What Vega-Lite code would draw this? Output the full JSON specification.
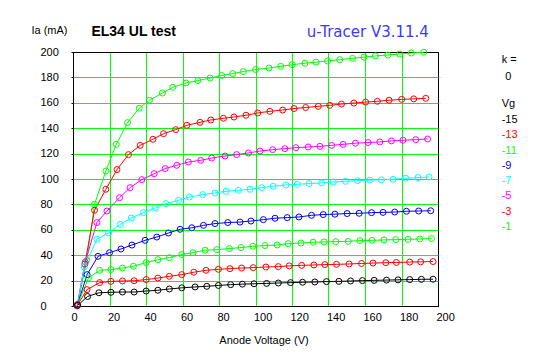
{
  "$schema": "https://vega.github.io/schema/vega-lite/v6.json",
  "width": 365,
  "height": 254,
  "autosize": "none",
  "padding": {"left": 73, "top": 52, "right": 109, "bottom": 51},
  "background": "white",
  "config": {
    "view": {"stroke": "black", "strokeWidth": 1},
    "font": "Liberation Sans",
    "axis": {"labelFont": "Liberation Sans", "labelFontSize": 11, "labelColor": "black", "titleFont": "Liberation Sans", "titleFontSize": 11, "titleFontWeight": "normal", "titleColor": "black"},
    "legend": {"padding": 0, "titleFont": "Liberation Sans", "titleFontSize": 11, "titleFontWeight": "normal", "titleColor": "black", "labelFont": "Liberation Sans", "labelFontSize": 11, "labelColor": "black", "symbolSize": 0, "symbolStrokeWidth": 0, "symbolOpacity": 0}
  },
  "data": {"values": [
    {"vg":"-1","v":2.5,"ia":1},{"vg":"-1","v":7.5,"ia":36},{"vg":"-1","v":11.8,"ia":80.1},{"vg":"-1","v":18.0,"ia":106.3},{"vg":"-1","v":23.7,"ia":127.3},{"vg":"-1","v":29.9,"ia":144.4},{"vg":"-1","v":36.3,"ia":155.7},{"vg":"-1","v":41.9,"ia":162},{"vg":"-1","v":49.0,"ia":167.7},{"vg":"-1","v":54.7,"ia":172.2},{"vg":"-1","v":62.0,"ia":175.6},{"vg":"-1","v":68.4,"ia":177.5},{"vg":"-1","v":75.1,"ia":179.5},{"vg":"-1","v":81.5,"ia":181.5},{"vg":"-1","v":87.5,"ia":183.0},{"vg":"-1","v":93.3,"ia":184.6},{"vg":"-1","v":100.1,"ia":186.2},{"vg":"-1","v":107.4,"ia":187.4},{"vg":"-1","v":113.8,"ia":188.7},{"vg":"-1","v":120.1,"ia":190.0},{"vg":"-1","v":127.1,"ia":191.2},{"vg":"-1","v":133.1,"ia":192.0},{"vg":"-1","v":139.5,"ia":192.9},{"vg":"-1","v":146.2,"ia":194.0},{"vg":"-1","v":153.2,"ia":195.0},{"vg":"-1","v":159.5,"ia":196.0},{"vg":"-1","v":165.7,"ia":196.9},{"vg":"-1","v":172.5,"ia":197.6},{"vg":"-1","v":179.0,"ia":198.4},{"vg":"-1","v":185.4,"ia":199.2},{"vg":"-1","v":192.2,"ia":199.8},
    {"vg":"-3","v":2.5,"ia":1},{"vg":"-3","v":6.5,"ia":33},{"vg":"-3","v":11.8,"ia":75.4},{"vg":"-3","v":18.0,"ia":91.9},{"vg":"-3","v":24.1,"ia":107.4},{"vg":"-3","v":30.4,"ia":119.2},{"vg":"-3","v":36.8,"ia":126.5},{"vg":"-3","v":43.8,"ia":131.3},{"vg":"-3","v":49.6,"ia":135.7},{"vg":"-3","v":56.3,"ia":138.9},{"vg":"-3","v":62.4,"ia":142.3},{"vg":"-3","v":69.6,"ia":144.6},{"vg":"-3","v":75.5,"ia":146.5},{"vg":"-3","v":82.4,"ia":147.8},{"vg":"-3","v":88.2,"ia":148.8},{"vg":"-3","v":94.8,"ia":150.2},{"vg":"-3","v":101.2,"ia":152.0},{"vg":"-3","v":107.9,"ia":153.3},{"vg":"-3","v":114.9,"ia":154.3},{"vg":"-3","v":121.1,"ia":155.5},{"vg":"-3","v":127.5,"ia":156.3},{"vg":"-3","v":134.4,"ia":157.2},{"vg":"-3","v":140.7,"ia":158.0},{"vg":"-3","v":147.1,"ia":159.0},{"vg":"-3","v":153.9,"ia":159.8},{"vg":"-3","v":160.3,"ia":160.6},{"vg":"-3","v":166.8,"ia":161.2},{"vg":"-3","v":173.2,"ia":162.0},{"vg":"-3","v":180.1,"ia":162.7},{"vg":"-3","v":186.7,"ia":163.1},{"vg":"-3","v":193.3,"ia":163.5},
    {"vg":"-5","v":2.2,"ia":0},{"vg":"-5","v":6.7,"ia":34.6},{"vg":"-5","v":13.1,"ia":65.7},{"vg":"-5","v":18.6,"ia":74.8},{"vg":"-5","v":25.5,"ia":85.3},{"vg":"-5","v":31.3,"ia":93.2},{"vg":"-5","v":37.7,"ia":99.5},{"vg":"-5","v":44.5,"ia":104.2},{"vg":"-5","v":50.5,"ia":108.2},{"vg":"-5","v":56.9,"ia":110.8},{"vg":"-5","v":63.2,"ia":113.4},{"vg":"-5","v":70.0,"ia":114.7},{"vg":"-5","v":76.0,"ia":116.5},{"vg":"-5","v":83.3,"ia":118.1},{"vg":"-5","v":89.7,"ia":119.2},{"vg":"-5","v":96.1,"ia":120.5},{"vg":"-5","v":102.5,"ia":122.0},{"vg":"-5","v":109.4,"ia":123.1},{"vg":"-5","v":116.1,"ia":123.9},{"vg":"-5","v":122.1,"ia":124.7},{"vg":"-5","v":128.9,"ia":125.2},{"vg":"-5","v":135.3,"ia":125.7},{"vg":"-5","v":141.7,"ia":126.5},{"vg":"-5","v":148.0,"ia":127.3},{"vg":"-5","v":154.8,"ia":128.2},{"vg":"-5","v":161.7,"ia":128.7},{"vg":"-5","v":168.1,"ia":129.2},{"vg":"-5","v":174.5,"ia":130.0},{"vg":"-5","v":180.8,"ia":130.5},{"vg":"-5","v":187.8,"ia":131.0},{"vg":"-5","v":194.3,"ia":131.5},
    {"vg":"-7","v":2.5,"ia":1},{"vg":"-7","v":6.2,"ia":30.7},{"vg":"-7","v":13.1,"ia":52.5},{"vg":"-7","v":19.5,"ia":57.5},{"vg":"-7","v":25.9,"ia":64.3},{"vg":"-7","v":31.9,"ia":69.3},{"vg":"-7","v":38.6,"ia":73.5},{"vg":"-7","v":45.0,"ia":77.2},{"vg":"-7","v":51.0,"ia":80.6},{"vg":"-7","v":57.8,"ia":83.2},{"vg":"-7","v":63.8,"ia":85.8},{"vg":"-7","v":71.1,"ia":87.7},{"vg":"-7","v":77.8,"ia":89.0},{"vg":"-7","v":83.9,"ia":90.3},{"vg":"-7","v":90.6,"ia":91.1},{"vg":"-7","v":97.0,"ia":91.9},{"vg":"-7","v":103.4,"ia":93.2},{"vg":"-7","v":109.7,"ia":94.3},{"vg":"-7","v":116.7,"ia":95.3},{"vg":"-7","v":122.9,"ia":95.8},{"vg":"-7","v":129.4,"ia":96.4},{"vg":"-7","v":136.2,"ia":96.9},{"vg":"-7","v":142.6,"ia":97.6},{"vg":"-7","v":149.3,"ia":98.2},{"vg":"-7","v":155.9,"ia":98.7},{"vg":"-7","v":162.6,"ia":99.1},{"vg":"-7","v":169.0,"ia":99.4},{"vg":"-7","v":175.4,"ia":99.8},{"vg":"-7","v":182.3,"ia":100.6},{"vg":"-7","v":189.0,"ia":101.1},{"vg":"-7","v":195.1,"ia":101.6},
    {"vg":"-9","v":2.5,"ia":1},{"vg":"-9","v":7.7,"ia":24.7},{"vg":"-9","v":13.7,"ia":39.1},{"vg":"-9","v":20.0,"ia":42.0},{"vg":"-9","v":26.3,"ia":44.9},{"vg":"-9","v":32.3,"ia":48.0},{"vg":"-9","v":39.5,"ia":51.7},{"vg":"-9","v":45.9,"ia":54.3},{"vg":"-9","v":52.3,"ia":57.5},{"vg":"-9","v":58.7,"ia":60.4},{"vg":"-9","v":65.1,"ia":61.6},{"vg":"-9","v":71.5,"ia":63.5},{"vg":"-9","v":77.8,"ia":64.9},{"vg":"-9","v":84.8,"ia":65.7},{"vg":"-9","v":91.5,"ia":66.1},{"vg":"-9","v":97.5,"ia":66.9},{"vg":"-9","v":104.3,"ia":68.0},{"vg":"-9","v":110.7,"ia":69.1},{"vg":"-9","v":117.4,"ia":69.6},{"vg":"-9","v":123.8,"ia":70.1},{"vg":"-9","v":130.7,"ia":71.4},{"vg":"-9","v":137.1,"ia":72.0},{"vg":"-9","v":143.5,"ia":72.3},{"vg":"-9","v":150.2,"ia":72.8},{"vg":"-9","v":156.8,"ia":73.0},{"vg":"-9","v":163.6,"ia":73.5},{"vg":"-9","v":169.9,"ia":73.7},{"vg":"-9","v":176.3,"ia":74.0},{"vg":"-9","v":182.7,"ia":74.6},{"vg":"-9","v":189.4,"ia":74.8},{"vg":"-9","v":196.0,"ia":75.0},
    {"vg":"-11","v":2.5,"ia":1},{"vg":"-11","v":8.5,"ia":22},{"vg":"-11","v":14.6,"ia":28.1},{"vg":"-11","v":20.8,"ia":28.7},{"vg":"-11","v":27.1,"ia":29.9},{"vg":"-11","v":33.1,"ia":31.3},{"vg":"-11","v":40.1,"ia":34.2},{"vg":"-11","v":46.5,"ia":36.5},{"vg":"-11","v":52.8,"ia":38.1},{"vg":"-11","v":59.6,"ia":40.5},{"vg":"-11","v":65.8,"ia":42.0},{"vg":"-11","v":72.4,"ia":43.9},{"vg":"-11","v":78.8,"ia":44.4},{"vg":"-11","v":85.7,"ia":45.2},{"vg":"-11","v":92.1,"ia":46.0},{"vg":"-11","v":98.5,"ia":47.0},{"vg":"-11","v":105.2,"ia":47.6},{"vg":"-11","v":111.9,"ia":48.0},{"vg":"-11","v":117.9,"ia":49.1},{"vg":"-11","v":124.9,"ia":49.6},{"vg":"-11","v":131.6,"ia":50.2},{"vg":"-11","v":137.6,"ia":50.4},{"vg":"-11","v":144.0,"ia":50.7},{"vg":"-11","v":150.8,"ia":50.9},{"vg":"-11","v":157.2,"ia":51.5},{"vg":"-11","v":163.9,"ia":51.7},{"vg":"-11","v":170.4,"ia":52.0},{"vg":"-11","v":176.8,"ia":52.3},{"vg":"-11","v":183.6,"ia":52.5},{"vg":"-11","v":190.0,"ia":52.8},{"vg":"-11","v":196.4,"ia":53.1},
    {"vg":"-13","v":2.5,"ia":1},{"vg":"-13","v":7.7,"ia":12.9},{"vg":"-13","v":14.6,"ia":18.4},{"vg":"-13","v":20.8,"ia":19.4},{"vg":"-13","v":27.1,"ia":19.7},{"vg":"-13","v":33.5,"ia":19.9},{"vg":"-13","v":40.1,"ia":20.8},{"vg":"-13","v":46.5,"ia":22.0},{"vg":"-13","v":52.8,"ia":23.4},{"vg":"-13","v":59.6,"ia":24.7},{"vg":"-13","v":66.2,"ia":26.6},{"vg":"-13","v":72.9,"ia":28.1},{"vg":"-13","v":79.7,"ia":28.9},{"vg":"-13","v":86.0,"ia":29.4},{"vg":"-13","v":92.4,"ia":29.9},{"vg":"-13","v":98.8,"ia":30.2},{"vg":"-13","v":105.7,"ia":30.7},{"vg":"-13","v":112.5,"ia":31.0},{"vg":"-13","v":118.5,"ia":31.6},{"vg":"-13","v":125.3,"ia":32.0},{"vg":"-13","v":132.0,"ia":32.3},{"vg":"-13","v":138.0,"ia":32.6},{"vg":"-13","v":144.4,"ia":32.8},{"vg":"-13","v":151.3,"ia":33.1},{"vg":"-13","v":158.1,"ia":33.5},{"vg":"-13","v":164.4,"ia":33.8},{"vg":"-13","v":171.4,"ia":34.1},{"vg":"-13","v":177.2,"ia":34.3},{"vg":"-13","v":184.5,"ia":34.6},{"vg":"-13","v":190.5,"ia":34.8},{"vg":"-13","v":197.3,"ia":35.0},
    {"vg":"-15","v":2.5,"ia":0.5},{"vg":"-15","v":8.0,"ia":7.5},{"vg":"-15","v":14.2,"ia":10.4},{"vg":"-15","v":20.8,"ia":10.8},{"vg":"-15","v":27.1,"ia":11.0},{"vg":"-15","v":33.5,"ia":11.0},{"vg":"-15","v":40.1,"ia":11.8},{"vg":"-15","v":46.5,"ia":12.4},{"vg":"-15","v":52.8,"ia":13.4},{"vg":"-15","v":59.6,"ia":14.3},{"vg":"-15","v":66.9,"ia":15.0},{"vg":"-15","v":73.3,"ia":15.5},{"vg":"-15","v":79.7,"ia":16.2},{"vg":"-15","v":86.4,"ia":16.8},{"vg":"-15","v":92.8,"ia":17.2},{"vg":"-15","v":99.2,"ia":17.5},{"vg":"-15","v":106.1,"ia":17.8},{"vg":"-15","v":112.5,"ia":18.1},{"vg":"-15","v":119.2,"ia":18.4},{"vg":"-15","v":125.8,"ia":18.7},{"vg":"-15","v":132.5,"ia":18.9},{"vg":"-15","v":138.9,"ia":19.2},{"vg":"-15","v":145.7,"ia":19.4},{"vg":"-15","v":152.1,"ia":19.7},{"vg":"-15","v":158.6,"ia":20.0},{"vg":"-15","v":165.0,"ia":20.2},{"vg":"-15","v":171.8,"ia":20.4},{"vg":"-15","v":178.1,"ia":20.6},{"vg":"-15","v":184.5,"ia":20.8},{"vg":"-15","v":190.9,"ia":21.0},{"vg":"-15","v":197.3,"ia":21.1}
  ]},
  "layer": [
    {
      "mark": {"type": "line", "strokeWidth": 1, "point": {"filled": false, "size": 36, "strokeWidth": 1, "shape": "circle"}},
      "encoding": {
        "x": {"field": "v", "type": "quantitative", "scale": {"domain": [0, 200], "nice": false},
          "axis": {"values": [0,20,40,60,80,100,120,140,160,180,200], "grid": true,
            "gridColor": {"condition": {"test": "datum.value === 0 || datum.value === 200", "value": "black"}, "value": "#00ff00"},
            "gridOpacity": 1, "gridWidth": 1, "domainColor": "black", "ticks": false,
            "labelAlign": "left", "labelOffset": -2, "labelPadding": 5, "labelFlush": false,
            "title": "Anode Voltage (V)", "titleX": 190.5, "titleY": 34, "titleAlign": "center", "titleBaseline": "middle"}},
        "y": {"field": "ia", "type": "quantitative", "scale": {"domain": [0, 200], "nice": false},
          "axis": {"values": [0,20,40,60,80,100,120,140,160,180,200], "grid": true,
            "gridColor": {"condition": {"test": "datum.value === 0 || datum.value === 200", "value": "black"}, "value": "#00ff00"},
            "gridOpacity": 1, "gridWidth": 1, "domainColor": "black", "ticks": true, "tickSize": 2, "tickColor": "black",
            "labelAlign": "left", "labelBaseline": "middle", "labelPadding": 31, "labelFlush": false,
            "title": "Ia (mA)", "titleAngle": 0, "titleX": -24, "titleY": -21.5, "titleAlign": "center", "titleBaseline": "middle"}},
        "color": {"field": "vg", "type": "nominal",
          "scale": {"domain": ["-15","-13","-11","-9","-7","-5","-3","-1"], "range": ["#000000","#ff0000","#00ff00","#0000ff","#00ffff","#ff00ff","#ff0000","#00ff00"]},
          "legend": {"orient": "none", "legendX": 428.7, "legendY": 45.7,
            "title": "Vg", "titlePadding": 6, "labelOffset": -11, "rowPadding": 3.25,
            "encode": {"labels": {"update": {"fill": {"scale": "color", "field": "value"}}}}}}
      }
    },
    {
      "mark": {"type": "point", "opacity": 0},
      "encoding": {
        "x": {"field": "v", "type": "quantitative",
          "axis": {"orient": "top", "labels": false, "ticks": false, "domain": false, "grid": false,
            "title": "u-Tracer V3.11.4", "titleX": 294.3, "titleY": -21, "titleAlign": "center", "titleBaseline": "middle",
            "titleFont": "DejaVu Sans", "titleFontSize": 15, "titleColor": "#3a3aff"}},
        "y": {"field": "ia", "type": "quantitative",
          "axis": {"orient": "right", "labels": false, "ticks": false, "domain": false, "grid": false,
            "title": "EL34 UL test", "titleAngle": 0, "titleX": -304.8, "titleY": -20.7, "titleAlign": "center", "titleBaseline": "middle",
            "titleFont": "Liberation Sans", "titleFontSize": 14, "titleFontWeight": "bold", "titleColor": "black"}},
        "shape": {"datum": "0",
          "legend": {"orient": "none", "legendX": 428.7, "legendY": 2.3, "title": "k =", "titlePadding": 5.7, "labelOffset": -7.5}}
      }
    }
  ],
  "resolve": {"axis": {"x": "independent", "y": "independent"}}
}
